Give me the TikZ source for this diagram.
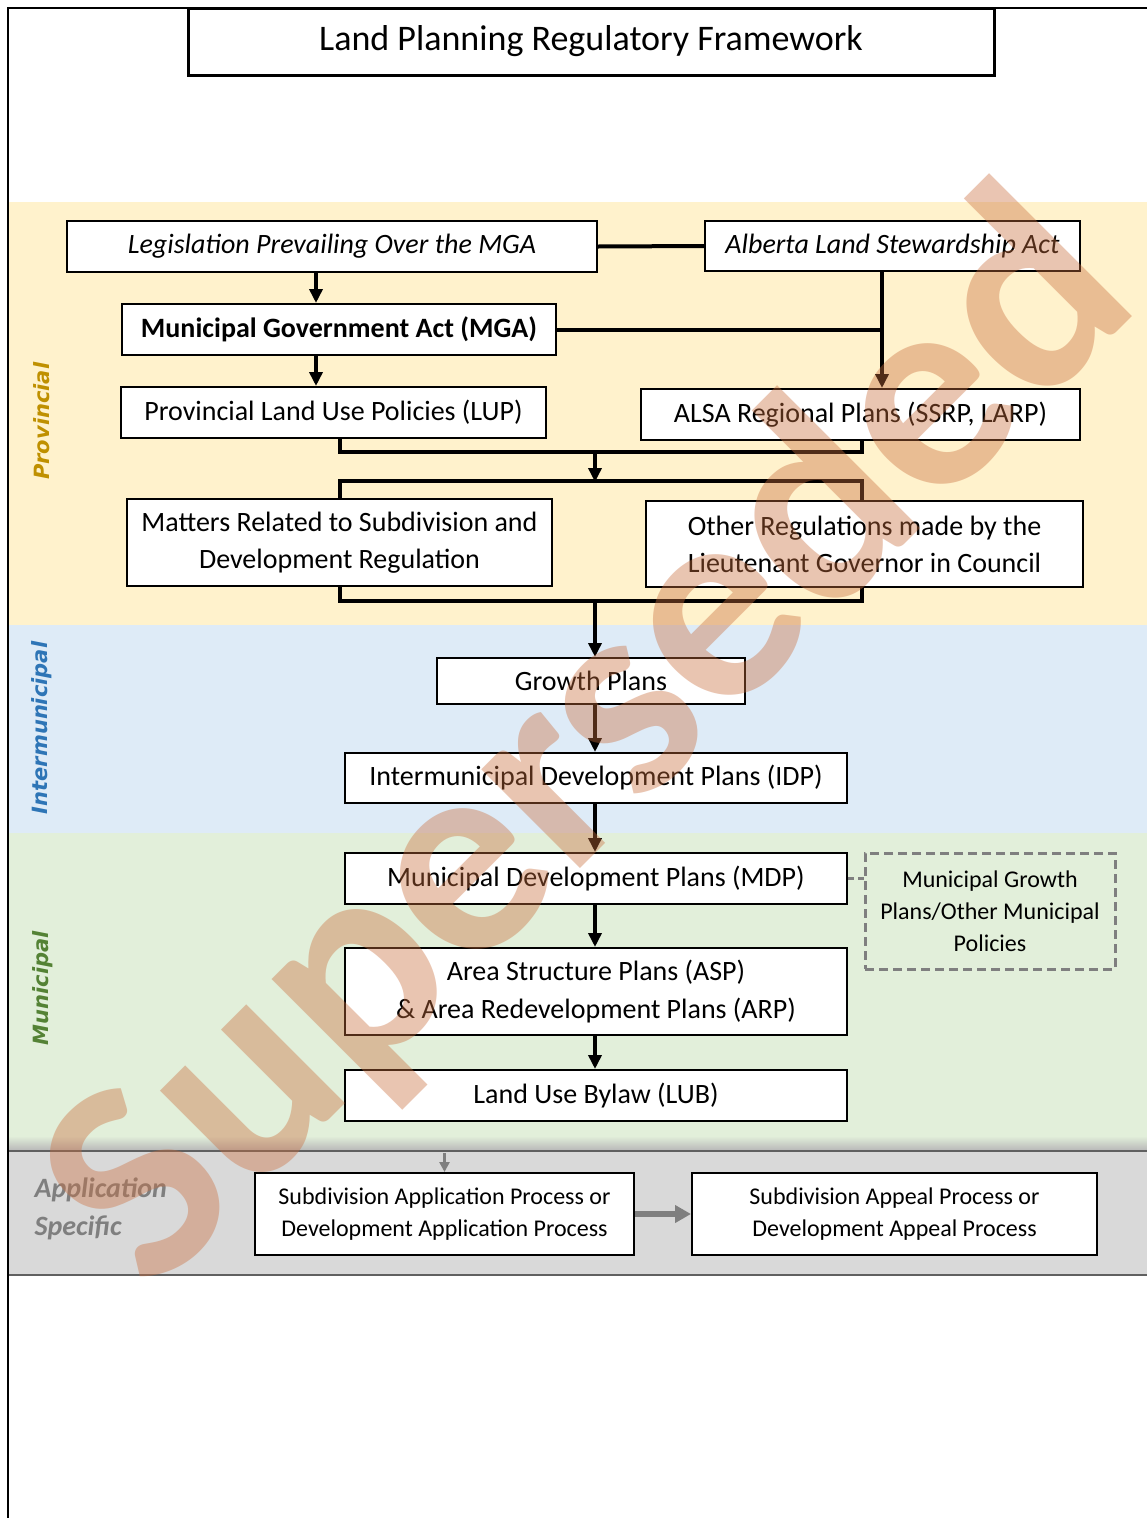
\documentclass[tikz,border=0pt]{standalone}
\usepackage{fontspec}
\setmainfont{Carlito}
\newfontfamily\sidefont{DejaVu Sans}[ItalicFont={DejaVu Sans Oblique},BoldFont={DejaVu Sans Bold},BoldItalicFont={DejaVu Sans Bold Oblique}]
\usetikzlibrary{arrows.meta, positioning}

\definecolor{provband}{HTML}{FFF2CC}
\definecolor{interband}{HTML}{DEEBF7}
\definecolor{muniband}{HTML}{E2EFDA}
\definecolor{appband}{HTML}{D9D9D9}
\definecolor{provtext}{HTML}{BF9000}
\definecolor{intertext}{HTML}{2E75B6}
\definecolor{munitext}{HTML}{548235}
\definecolor{apptext}{HTML}{7F7F7F}
\definecolor{stampcolor}{HTML}{CA6E3E}

\tikzset{
    box/.style={draw, line width=2pt, fill=white, inner sep=0pt, align=center, font=\fontsize{28}{37}\selectfont},
    smallbox/.style={box, font=\fontsize{24}{32}\selectfont},
    link/.style={line width=4pt},
    arr/.style={link, -{Triangle[length=14pt, width=13pt]}},
    greyarr/.style={apptext, line width=3pt, -{Triangle[length=10pt, width=10pt]}},
    bandlabel/.style={rotate=90, font=\sidefont\bfseries\itshape\fontsize{21}{21}\selectfont}
}

\begin{document}
\begin{tikzpicture}[x=1pt, y=-1pt]
    \useasboundingbox (0,0) rectangle (1147,1518);

    % bandes de fond
    \fill[provband] (8,202) rectangle (1147,625);
    \fill[interband] (8,625) rectangle (1147,833);
    \fill[muniband] (8,833) rectangle (1147,1150);
    \fill[appband] (8,1150) rectangle (1147,1275);
    \shade[top color=muniband, bottom color=gray!55] (8,1136) rectangle (1147,1150);
    \draw[gray!75!black, line width=2pt] (8,1151) -- (1147,1151);
    \draw[gray!75!black, line width=1.5pt] (8,1275) -- (1147,1275);

    % cadre
    \draw[line width=1.2pt] (8,1518) -- (8,8) -- (1147,8);

    % titre
    \node[box, line width=3pt, minimum width=806pt, minimum height=67pt, font=\fontsize{36}{36}\selectfont] (title) at (591,41.5) {Land Planning Regulatory Framework};

    % etiquettes laterales
    \node[bandlabel, provtext] (provlabel) at (42,421) {Provincial};
    \node[bandlabel, intertext] (interlabel) at (42,728) {Intermunicipal};
    \node[bandlabel, munitext] (munilabel) at (43,988) {Municipal};
    \node[apptext, align=left, anchor=west, font=\bfseries\itshape\fontsize{28}{38}\selectfont] (applabel) at (31,1209) {Application\\Specific};

    % niveau provincial
    \node[box, minimum width=530pt, minimum height=51pt, font=\itshape\fontsize{28}{37}\selectfont] (leg) at (332,246.5) {Legislation Prevailing Over the MGA};
    \node[box, minimum width=375pt, minimum height=50pt, font=\itshape\fontsize{28}{37}\selectfont] (alsa) at (892.5,246) {Alberta Land Stewardship Act};
    \node[box, minimum width=434pt, minimum height=51pt, font=\bfseries\fontsize{28}{37}\selectfont] (mga) at (339,329.5) {Municipal Government Act (MGA)};
    \node[box, minimum width=425pt, minimum height=51pt] (lup) at (333.5,412.5) {Provincial Land Use Policies (LUP)};
    \node[box, minimum width=439pt, minimum height=51pt] (regional) at (860.5,414.5) {ALSA Regional Plans (SSRP, LARP)};
    \node[box, minimum width=425pt, minimum height=87pt] (matters) at (339.5,542.5) {Matters Related to Subdivision and\\Development Regulation};
    \node[box, minimum width=437pt, minimum height=86pt] (other) at (864.5,544) {Other Regulations made by the\\Lieutenant Governor in Council};

    % niveau intermunicipal
    \node[box, minimum width=308pt, minimum height=46pt] (growth) at (591,681) {Growth Plans};
    \node[box, minimum width=502pt, minimum height=50pt] (idp) at (596,778) {Intermunicipal Development Plans (IDP)};

    % niveau municipal
    \node[box, minimum width=502pt, minimum height=51pt] (mdp) at (596,878.5) {Municipal Development Plans (MDP)};
    \node[smallbox, draw=apptext, line width=3pt, dash pattern=on 9pt off 5pt, fill=none, minimum width=250pt, minimum height=116pt] (muni) at (990,911) {Municipal Growth\\Plans/Other Municipal\\Policies};
    \node[box, minimum width=502pt, minimum height=87pt, font=\fontsize{28}{38}\selectfont] (asp) at (596,991.5) {Area Structure Plans (ASP)\\\& Area Redevelopment Plans (ARP)};
    \node[box, minimum width=502pt, minimum height=51pt] (lub) at (596,1095.5) {Land Use Bylaw (LUB)};

    % niveau application
    \node[smallbox, minimum width=379pt, minimum height=82pt] (subapp) at (444.5,1214) {Subdivision Application Process or\\Development Application Process};
    \node[smallbox, minimum width=405pt, minimum height=82pt] (appeal) at (894.5,1214) {Subdivision Appeal Process or\\Development Appeal Process};

    % points de jonction
    \coordinate (spine) at (595,0);
    \coordinate (alsadrop) at ([xshift=-10.5pt]alsa.south);
    \coordinate (merge1) at (595,452);
    \coordinate (split1) at (595,481);
    \coordinate (merge2) at (595,601);
    \coordinate (apptop) at (444.5,1153);

    % liens provinciaux
    \draw[link] (leg.east) -- (alsa.west);
    \draw[arr] ([xshift=-16pt]leg.south) -- ([xshift=-23pt]mga.north);
    \draw[arr] ([xshift=-23pt]mga.south) -- ([xshift=-17.5pt]lup.north);
    \draw[link] (mga.east) -- (mga.east -| alsadrop);
    \draw[arr] (alsadrop) -- ([xshift=21.5pt]regional.north);
    \draw[link] ([xshift=6.5pt]lup.south) |- (merge1) -| ([xshift=1.5pt]regional.south);
    \draw[arr] (merge1) -- ([yshift=-1pt]split1);
    \draw[link] ([xshift=0.5pt]matters.north) |- (split1) -| ([xshift=-2.5pt]other.north);
    \draw[link] ([xshift=0.5pt]matters.south) |- (merge2) -| ([xshift=-2.5pt]other.south);
    \draw[arr] (merge2) -- (growth.north -| spine);

    % liens intermunicipaux et municipaux
    \draw[arr] (growth.south -| spine) -- (idp.north -| spine);
    \draw[arr] (idp.south -| spine) -- (mdp.north -| spine);
    \draw[apptext, line width=3pt, dash pattern=on 6pt off 4pt] (mdp.east) -- (muni.west |- mdp.east);
    \draw[arr] (mdp.south -| spine) -- (asp.north -| spine);
    \draw[arr] (asp.south -| spine) -- (lub.north -| spine);

    % liens application
    \draw[greyarr] (apptop) -- (subapp.north);
    \draw[apptext, line width=6pt, -{Triangle[length=16pt, width=17pt]}] (subapp.east) -- (appeal.west);

    % filigrane
    \node[text=stampcolor, opacity=0.4, rotate=45, font=\bfseries\fontsize{288}{288}\selectfont] (stamp) at (593,745) {Superseded};
\end{tikzpicture}
\end{document}
